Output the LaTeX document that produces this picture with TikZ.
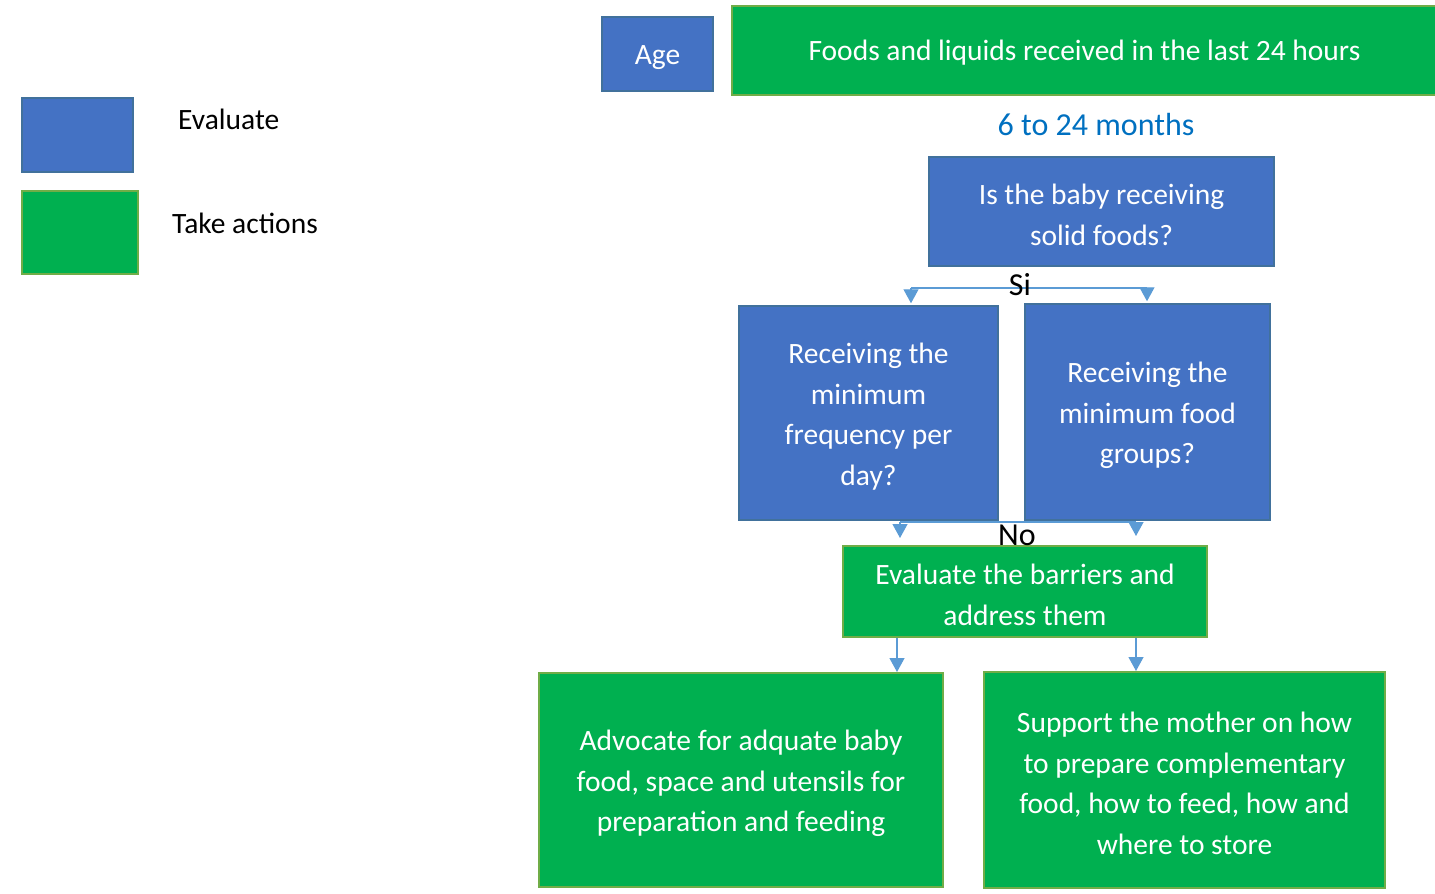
\documentclass[tikz,border=0pt]{standalone}
\usepackage{fontspec}
\setmainfont{Carlito}
\usetikzlibrary{arrows.meta}
\definecolor{evalfill}{HTML}{4472C4}
\definecolor{evaldraw}{HTML}{41719C}
\definecolor{actfill}{HTML}{00B050}
\definecolor{actdraw}{HTML}{70AD47}
\definecolor{arrowc}{HTML}{5B9BD5}
\definecolor{agetext}{HTML}{0070C0}
\tikzset{
  evalbox/.style={draw=evaldraw, fill=evalfill, line width=1.5pt, inner sep=0pt},
  actbox/.style={draw=actdraw, fill=actfill, line width=2pt, inner sep=0pt},
  boxtext/.style={text=white, align=center, inner sep=0pt, yshift=-3.5pt},
  conn/.style={draw=arrowc, line width=1.3pt},
  arr/.style={conn, -{Triangle[width=15pt,length=14pt]}},
  lbl/.style={inner sep=0pt},
}
\begin{document}
\begin{tikzpicture}[x=1pt,y=-1pt, font=\fontsize{29.5}{40.5}\selectfont]
\useasboundingbox (0,0) rectangle (1435,894);
% legend
\node[evalbox, minimum width=111pt, minimum height=74pt] (legE) at (77.5,135) {};
\node[actbox, minimum width=116pt, minimum height=83pt] (legA) at (80,232.5) {};
\node[lbl, anchor=west] (legEt) at (178,119) {Evaluate};
\node[lbl, anchor=west] (legAt) at (172,223) {Take actions};
% top
\node[evalbox, minimum width=111pt, minimum height=74pt] (age) at (657.5,54) {};
\node[boxtext] (ageT) at (age.center) {Age};
\node[actbox, minimum width=705pt, minimum height=89pt] (foods) at (1084.5,50.5) {};
\node[boxtext, yshift=1.5pt] (foodsT) at (foods.center) {Foods and liquids received in the last 24 hours};
\node[lbl, text=agetext, font=\fontsize{32}{40}\selectfont] (months) at (1096,125) {6 to 24 months};
% evaluate boxes
\node[evalbox, minimum width=345pt, minimum height=109pt] (solid) at (1101.5,211.5) {};
\node[boxtext] (solidT) at (solid.center) {Is the baby receiving\\solid foods?};
\node[evalbox, minimum width=259pt, minimum height=214pt] (freq) at (868.5,413) {};
\node[boxtext] (freqT) at (freq.center) {Receiving the\\minimum\\frequency per\\day?};
\node[evalbox, minimum width=245pt, minimum height=216pt] (groups) at (1147.5,412) {};
\node[boxtext] (groupsT) at (groups.center) {Receiving the\\minimum food\\groups?};
% action boxes
\node[actbox, minimum width=364pt, minimum height=91pt] (barr) at (1025,591.5) {};
\node[boxtext] (barrT) at (barr.center) {Evaluate the barriers and\\address them};
\node[actbox, minimum width=404pt, minimum height=214pt] (advo) at (741,780) {};
\node[boxtext] (advoT) at (advo.center) {Advocate for adquate baby\\food, space and utensils for\\preparation and feeding};
\node[actbox, minimum width=401pt, minimum height=216pt] (supp) at (1184.5,780) {};
\node[boxtext] (suppT) at (supp.center) {Support the mother on how\\to prepare complementary\\food, how to feed, how and\\where to store};
% Si connector
\coordinate (siL) at (911,288);
\coordinate (siR) at (1147,288);
\draw[conn] (siL) -- (siR);
\draw[arr] (siL) -- ([yshift=2pt]siL |- freq.north);
\draw[arr] (siR) -- ([yshift=2pt]siR |- groups.north);
\node[lbl, font=\fontsize{32}{34}\selectfont] (si) at (1020,285) {Si};
% No connector
\coordinate (noL) at (900,522);
\coordinate (noR) at (1136,522);
\draw[conn] (noL) -- (noR);
\draw[arr] (noL) -- ([yshift=7pt]noL |- barr.north);
\draw[arr] (noR) -- ([yshift=9pt]noR |- barr.north);
\node[lbl, font=\fontsize{32}{34}\selectfont] (no) at (1017,535) {No};
% bottom arrows
\draw[arr] (barr.south -| 897,0) -- (advo.north -| 897,0);
\draw[arr] (barr.south -| 1136,0) -- (supp.north -| 1136,0);
\end{tikzpicture}
\end{document}
